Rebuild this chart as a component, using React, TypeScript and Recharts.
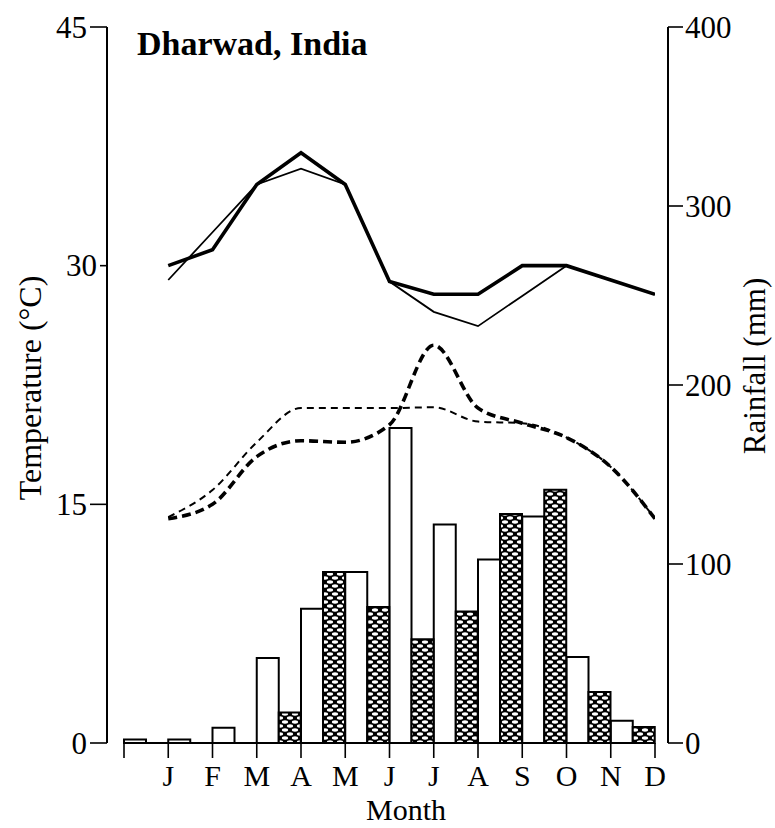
import React from 'react';
import { ComposedChart, Bar, Line, XAxis, YAxis, ReferenceLine } from 'recharts';

const months = ['J', 'F', 'M', 'A', 'M', 'J', 'J', 'A', 'S', 'O', 'N', 'D'];
const monthIndex = [1, 2, 3, 4, 5, 6, 7, 8, 9, 10, 11, 12];
const xTicks = [0, 1, 2, 3, 4, 5, 6, 7, 8, 9, 10, 11, 12];

// rainfall (mm): open bars and cross-hatched bars
const rainOpen = [2, 2, 8.5, 47.5, 75, 95.5, 176, 122, 102.5, 126.5, 48, 12.5];
const rainHatched = [0, 0, 0, 17, 95.5, 76, 58, 73.5, 128, 141.5, 28.5, 9];

// temperature (°C)
const maxTempA = [30.0, 31.0, 35.1, 37.1, 35.1, 29.0, 28.2, 28.2, 30.0, 30.0, 29.1, 28.2];
const maxTempB = [29.1, 32.1, 35.1, 36.1, 35.1, 29.0, 27.1, 26.2, 28.1, 30.0, 29.1, 28.2];
const minTempA = [14.1, 15.0, 18.0, 19.0, 18.9, 20.0, 25.0, 21.05, 20.1, 19.2, 17.35, 14.1];
const minTempB = [14.2, 15.9, 18.9, 21.05, 21.05, 21.05, 21.1, 20.2, 20.1, 19.2, 17.35, 14.1];

const tempTicks = [0, 15, 30, 45];
const rainTicks = [0, 100, 200, 300, 400];

const data = monthIndex.map((idx, i) => ({
  idx,
  month: months[i],
  rainOpen: rainOpen[i],
  rainHatched: rainHatched[i],
  maxTempA: maxTempA[i],
  maxTempB: maxTempB[i],
  minTempA: minTempA[i],
  minTempB: minTempB[i],
}));

const FONT = '"Liberation Serif", "Times New Roman", serif';
const FS = 31;

const LeftTick = (props: any) => {
  const { x, y, payload } = props;
  const len = payload.value === 30 ? 7 : 17;
  return (
    <g>
      <line x1={x - len} y1={y} x2={x} y2={y} stroke="#000" strokeWidth={1.6} />
      <text x={x - len - 3} y={y} dy="0.34em" textAnchor="end" fontFamily={FONT} fontSize={FS} fill="#000">
        {payload.value}
      </text>
    </g>
  );
};

const RightTick = (props: any) => {
  const { x, y, payload } = props;
  return (
    <g>
      <line x1={x} y1={y} x2={x + 15} y2={y} stroke="#000" strokeWidth={1.6} />
      <text x={x + 17} y={y} dy="0.34em" textAnchor="start" fontFamily={FONT} fontSize={FS} fill="#000">
        {payload.value}
      </text>
    </g>
  );
};

const MonthTick = (props: any) => {
  const { x, y, payload } = props;
  const label = payload.value === 0 ? '' : months[payload.value - 1];
  return (
    <text x={x} y={y + 28} textAnchor="middle" fontFamily={FONT} fontSize={30} fill="#000">
      {label}
    </text>
  );
};

export default function App() {
  return (
    <div style={{ position: 'absolute', left: 0, top: 0, background: '#fff' }}>
      <svg width={0} height={0} style={{ position: 'absolute' }}>
        <defs>
          <pattern id="xhatch" patternUnits="userSpaceOnUse" width={10} height={8}>
            <rect x={0} y={0} width={10} height={8} fill="#000" />
            <ellipse cx={5} cy={2} rx={3.1} ry={1.7} fill="#fff" />
            <ellipse cx={0} cy={6} rx={3.1} ry={1.7} fill="#fff" />
            <ellipse cx={10} cy={6} rx={3.1} ry={1.7} fill="#fff" />
          </pattern>
        </defs>
      </svg>
      <ComposedChart
        width={775}
        height={828}
        data={data}
        margin={{ top: 27, right: 0, bottom: 0, left: 0 }}
        barCategoryGap={0}
        barGap={0}
      >
        <XAxis xAxisId="bars" dataKey="idx" type="category" hide height={0} padding={{ left: 17, right: 13 }} />
        <XAxis
          xAxisId="num"
          dataKey="idx"
          type="number"
          domain={[0, 12]}
          ticks={xTicks}
          interval={0}
          allowDataOverflow
          padding={{ left: 17, right: 13 }}
          axisLine={false}
          tickLine={{ stroke: '#000', strokeWidth: 1.6 }}
          tickSize={15}
          tickMargin={0}
          height={85}
          tick={<MonthTick />}
          label={() => (
            <text x={406} y={820} textAnchor="middle" fontFamily={FONT} fontSize={30} fill="#000">
              Month
            </text>
          )}
        />
        <YAxis
          yAxisId="temp"
          orientation="left"
          domain={[0, 45]}
          ticks={tempTicks}
          width={107}
          axisLine={{ stroke: '#000', strokeWidth: 2 }}
          tickLine={false}
          tickSize={0}
          tickMargin={0}
          tick={<LeftTick />}
          label={() => (
            <text
              x={41}
              y={388}
              transform="rotate(-90, 41, 388)"
              textAnchor="middle"
              fontFamily={FONT}
              fontSize={32}
              fill="#000"
            >
              Temperature (°C)
            </text>
          )}
        />
        <YAxis
          yAxisId="rain"
          orientation="right"
          domain={[0, 400]}
          ticks={rainTicks}
          width={107}
          axisLine={{ stroke: '#000', strokeWidth: 2 }}
          tickLine={false}
          tickSize={0}
          tickMargin={0}
          tick={<RightTick />}
          label={() => (
            <text
              x={765}
              y={366}
              transform="rotate(-90, 765, 366)"
              textAnchor="middle"
              fontFamily={FONT}
              fontSize={FS}
              fill="#000"
            >
              Rainfall (mm)
            </text>
          )}
        />
        <Bar
          xAxisId="bars"
          yAxisId="rain"
          dataKey="rainOpen"
          fill="#fff"
          stroke="#000"
          strokeWidth={2}
          isAnimationActive={false}
        />
        <Bar
          xAxisId="bars"
          yAxisId="rain"
          dataKey="rainHatched"
          fill="url(#xhatch)"
          stroke="#000"
          strokeWidth={2}
          isAnimationActive={false}
        />
        <ReferenceLine
          xAxisId="num"
          yAxisId="temp"
          segment={[{ x: 0, y: 0 }, { x: 12, y: 0 }]}
          stroke="#000"
          strokeWidth={2}
        />
        <Line xAxisId="num" yAxisId="temp" type="linear" dataKey="maxTempB" stroke="#000" strokeWidth={1.8} dot={false} isAnimationActive={false} />
        <Line xAxisId="num" yAxisId="temp" type="linear" dataKey="maxTempA" stroke="#000" strokeWidth={3.6} dot={false} isAnimationActive={false} />
        <Line xAxisId="num" yAxisId="temp" type="monotone" dataKey="minTempB" stroke="#000" strokeWidth={2} strokeDasharray="7 5" dot={false} isAnimationActive={false} />
        <Line xAxisId="num" yAxisId="temp" type="monotone" dataKey="minTempA" stroke="#000" strokeWidth={3.6} strokeDasharray="9 5" dot={false} isAnimationActive={false} />
        <text x={137} y={55} fontFamily={FONT} fontSize={34} fontWeight="bold" fill="#000">
          Dharwad, India
        </text>
      </ComposedChart>
    </div>
  );
}
